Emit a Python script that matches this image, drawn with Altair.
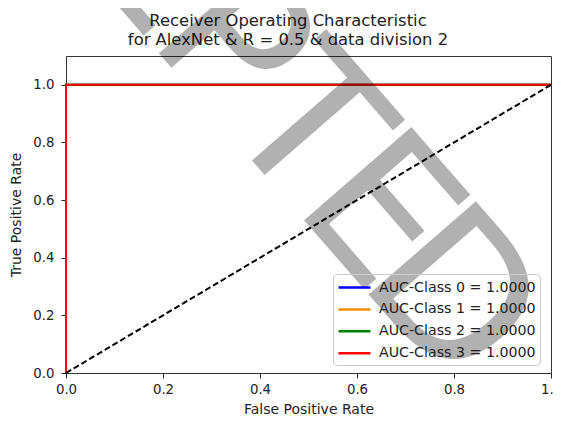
import math
import altair as alt
import pandas as pd

classes = ["AUC-Class 0 = 1.0000", "AUC-Class 1 = 1.0000",
           "AUC-Class 2 = 1.0000", "AUC-Class 3 = 1.0000"]
colors = ["#0000ff", "#ff8c00", "#008000", "#ff0000"]
fpr = [[0.0, 0.0, 1.0], [0.0, 0.0, 1.0], [0.0, 0.0, 1.0], [0.0, 0.0, 1.0]]
tpr = [[0.0, 1.0, 1.0], [0.0, 1.0, 1.0], [0.0, 1.0, 1.0], [0.0, 1.0, 1.0]]
diag_x = [0.0, 1.0]
diag_y = [0.0, 1.0]
ticks = [0.0, 0.2, 0.4, 0.6, 0.8, 1.0]
title_text = "Receiver Operating Characteristic\nfor AlexNet & R = 0.5 & data division 2"
watermark = "ACCEPTED"

rows = []
for c, xs, ys in zip(classes, fpr, tpr):
    for i, (a, b) in enumerate(zip(xs, ys)):
        rows.append({"cls": c, "fpr": a, "tpr": b, "order": i})
roc = pd.DataFrame(rows)
diag = pd.DataFrame({"fpr": diag_x, "tpr": diag_y, "order": [0, 1]})

# watermark layout (pixel positions relative to the plot area, decoration only)
WM_ANGLE = 49
WM_SIZE = 195
WM_STEP = 112
WM_LAST = (393, 234)  # centre of the final letter
ua = math.radians(WM_ANGLE)
u = (math.cos(ua), math.sin(ua))
v = (math.sin(ua), -math.cos(ua))
n = len(watermark)
wm_rows = []
for i, ch in enumerate(watermark):
    k = (n - 1 - i) * WM_STEP
    cx = WM_LAST[0] - k * u[0] - 0.365 * WM_SIZE * v[0]
    cy = WM_LAST[1] - k * u[1] - 0.365 * WM_SIZE * v[1]
    wm_rows.append({"ch": ch, "px": cx, "py": cy})
wm_df = pd.DataFrame(wm_rows)

xscale = alt.Scale(domain=[0, 1], nice=False, zero=False)
yscale = alt.Scale(domain=[0, 1.1], nice=False, zero=False)
xaxis = alt.Axis(values=ticks, format=".1f", title="False Positive Rate",
                 labelPadding=4, titlePadding=7)
yaxis = alt.Axis(values=ticks, format=".1f", title="True Positive Rate",
                 labelPadding=7, titlePadding=9)

lines = alt.Chart(roc).mark_line(strokeWidth=2).encode(
    x=alt.X("fpr:Q", scale=xscale, axis=xaxis),
    y=alt.Y("tpr:Q", scale=yscale, axis=yaxis),
    color=alt.Color("cls:N", scale=alt.Scale(domain=classes, range=colors),
                    legend=alt.Legend(title=None, orient="none",
                                      legendX=267, legendY=218)),
    order="order:Q",
)

dash = alt.Chart(diag).mark_line(strokeWidth=2, strokeDash=[6, 3], color="black").encode(
    x=alt.X("fpr:Q", scale=xscale),
    y=alt.Y("tpr:Q", scale=yscale),
    order="order:Q",
)

title = alt.Chart(pd.DataFrame({"t": [title_text]})).mark_text(
    font="DejaVu Sans", fontSize=16.4, color="#222222", align="center",
    baseline="alphabetic", lineBreak="\n", lineHeight=19
).encode(text="t:N", x=alt.value(222), y=alt.value(-30))

wm = alt.Chart(wm_df).mark_text(
    font="DejaVu Sans", fontSize=WM_SIZE, angle=WM_ANGLE, align="center",
    baseline="alphabetic", color="#000000", opacity=0.3
).encode(
    text="ch:N",
    x=alt.X("px:Q", scale=None, axis=None),
    y=alt.Y("py:Q", scale=None, axis=None),
)

chart = alt.layer(lines, dash, title, wm).properties(
    width=485, height=317,
    autosize=alt.AutoSizeParams(type="none"),
    padding={"left": 58, "top": 48, "right": 3, "bottom": 45},
).configure_view(
    stroke="#333333", strokeWidth=1
).configure_axis(
    grid=False, domain=True, domainColor="#333333", domainWidth=1, zindex=1,
    tickSize=5, tickColor="#222222",
    labelFont="DejaVu Sans", labelFontSize=13.3, labelColor="#222222",
    titleFont="DejaVu Sans", titleFontSize=14, titleFontWeight="normal",
    titleColor="#222222", labelFlush=False, labelOverlap=False
).configure_legend(
    symbolType="M-2,0H2", symbolSize=256, symbolStrokeWidth=2.5,
    symbolOffset=8,
    labelFont="DejaVu Sans", labelFontSize=14.2, labelColor="#222222",
    strokeColor="#cccccc", fillColor="rgba(255,255,255,0)", cornerRadius=4,
    padding=4, rowPadding=4.9, labelOffset=15
)

chart.save("out.html", embed_options={"renderer": "svg", "actions": False})
